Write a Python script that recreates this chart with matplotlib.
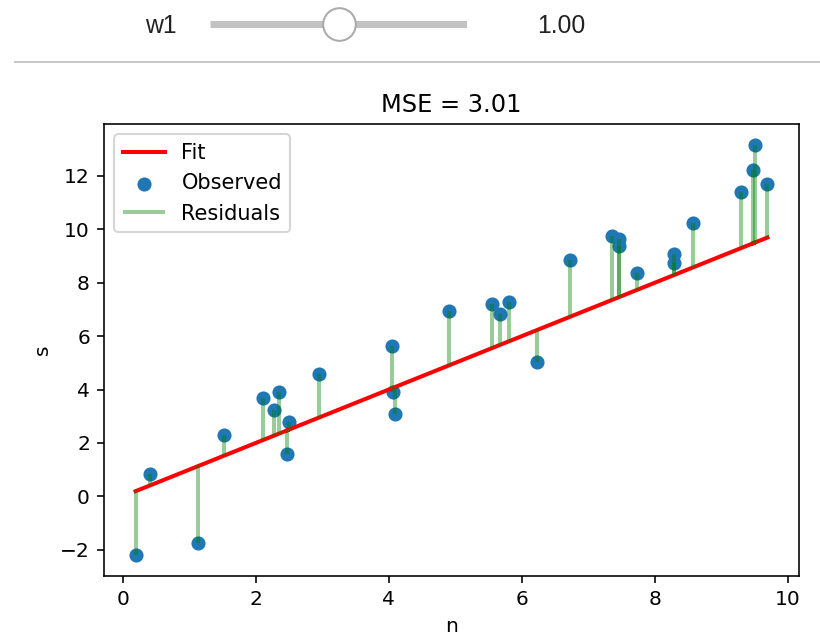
import matplotlib
matplotlib.use("Agg")
import matplotlib.pyplot as plt
from matplotlib.lines import Line2D
import numpy as np

# observed points
x_obs = np.array([0.195, 0.41, 1.126, 1.526, 2.117, 2.277, 2.347, 2.497, 2.467, 2.958,
                  4.054, 4.063, 4.089, 4.90, 5.55, 5.676, 5.80, 6.23, 6.73, 7.35,
                  7.457, 7.457, 7.73, 8.29, 8.29, 8.567, 9.29, 9.50, 9.47, 9.69])
y_obs = np.array([-2.21, 0.83, -1.75, 2.29, 3.67, 3.23, 3.91, 2.79, 1.60, 4.60,
                  5.63, 3.91, 3.07, 6.95, 7.19, 6.82, 7.28, 5.02, 8.83, 9.76,
                  9.63, 9.38, 8.36, 9.07, 8.75, 10.23, 11.38, 13.17, 12.23, 11.71])

w1 = 1.00
w1_min, w1_max = 0.0, 2.0
mse_label = "MSE = 3.01"

DPI = 145
fig = plt.figure(figsize=(820 / DPI, 639 / DPI), dpi=DPI)

# --- slider widget drawn at the top ---
sl = fig.add_axes([210 / 820, 1 - 50 / 639, 257 / 820, 50 / 639])
sl.set_xlim(w1_min, w1_max)
sl.set_ylim(-1, 1)
sl.axis("off")
sl.plot([w1_min, w1_max], [0.04, 0.04], color="#c2c2c2", lw=3.5, solid_capstyle="butt")
sl.plot([w1], [0.04], "o", ms=16.2, mfc="white", mec="#aaaaaa", mew=1.0, clip_on=False)
fig.text(145 / 820, 1 - 26 / 639, "w1", ha="left", va="center",
         fontsize=12.3, color="#222222", family="Liberation Sans")
fig.text(537 / 820, 1 - 26 / 639, f"{w1:.2f}", ha="left", va="center",
         fontsize=12.3, color="#222222", family="Liberation Sans")
fig.add_artist(Line2D([15 / 820, 1], [1 - 62 / 639, 1 - 62 / 639],
                      transform=fig.transFigure, color="#c8c8c8", lw=1.0))

# --- main chart ---
ax = fig.add_axes([104 / 820, 1 - 576 / 639, 695 / 820, 452 / 639])
y_fit = w1 * x_obs

ax.plot(x_obs, y_fit, color="red", lw=2, label="Fit")
ax.scatter(x_obs, y_obs, label="Observed")
ax.vlines(x_obs, y_fit, y_obs, color="green", alpha=0.4, lw=2, label="Residuals")

ax.set_title(mse_label)
ax.set_xlabel("n")
ax.set_ylabel("s")
ax.legend(loc="upper left", fontsize=10.4)

fig.savefig("out.png", dpi=DPI)
